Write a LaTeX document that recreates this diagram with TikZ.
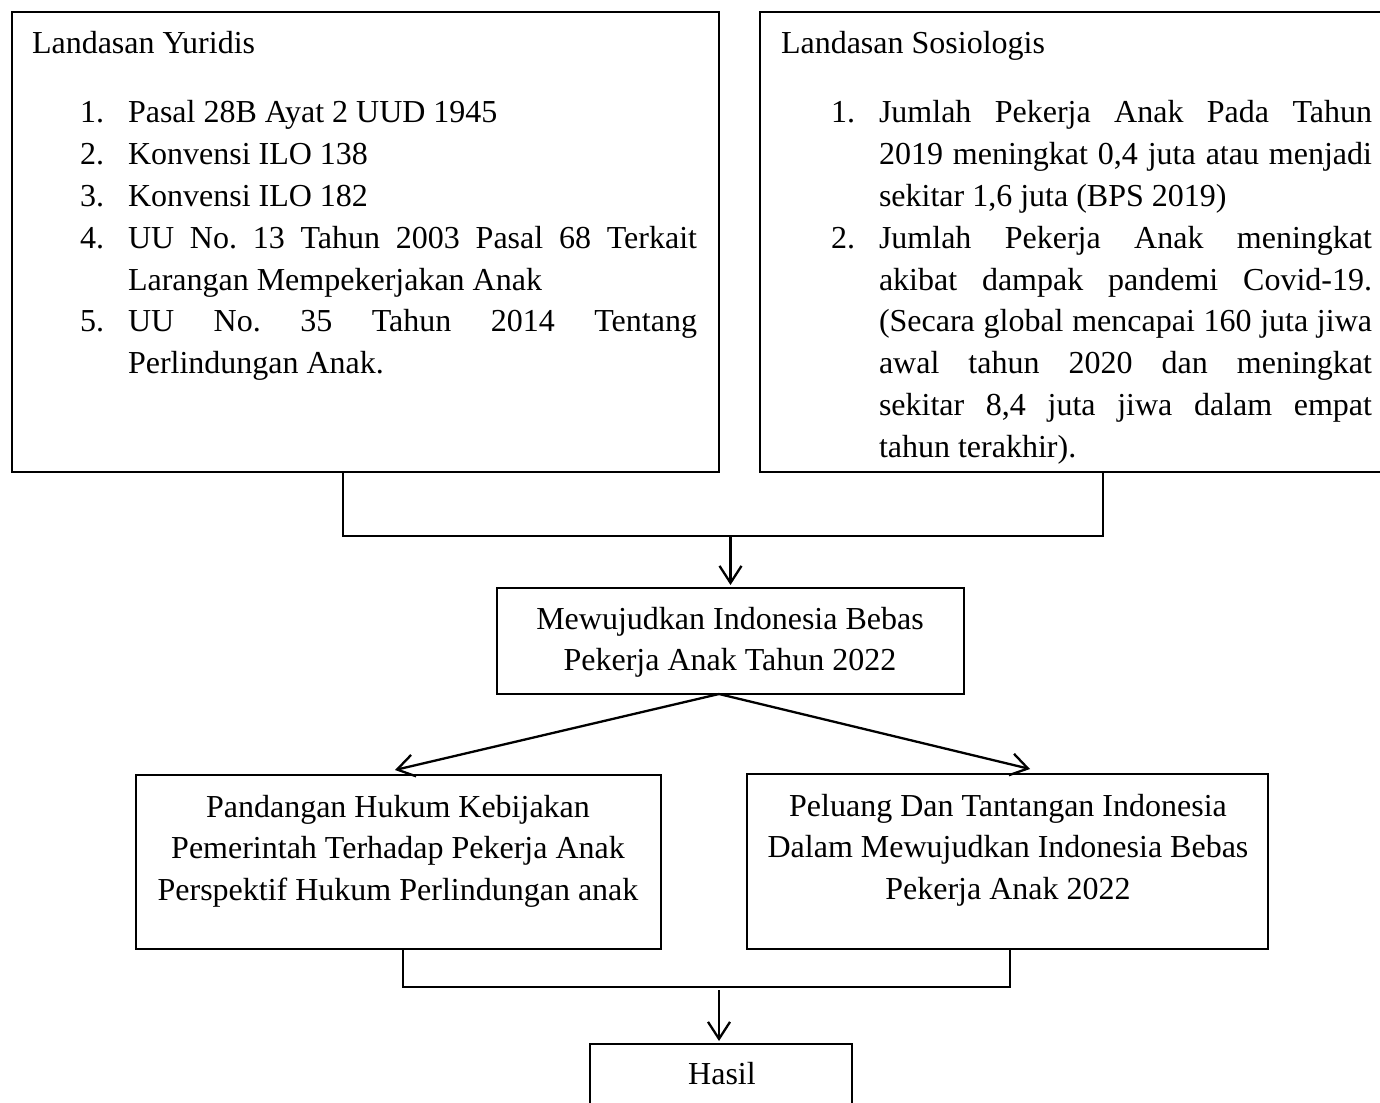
\documentclass[tikz,border=0pt]{standalone}
\usepackage{fontspec}
\setmainfont{Liberation Serif}
\usetikzlibrary{arrows.meta,calc}
\newcommand\myitem[1]{\par\noindent\llap{\makebox[48pt][l]{#1}}\ignorespaces}

\begin{document}
\frenchspacing
\begin{tikzpicture}[x=1pt,y=-1pt,
  box/.style={draw, line width=2pt, rectangle, inner sep=0pt, outer sep=0pt},
  txt/.style={inner sep=0pt, outer sep=0pt, font=\fontsize{32}{41.8}\selectfont},
  link/.style={line width=2pt},
  arr/.style={line width=2.3pt, -{Straight Barb[length=17pt,width=22pt]}}]
\useasboundingbox (0,0) rectangle (1380,1102);
\clip (0,0) rectangle (1380,1102);

% boxes
\node[box, minimum width=707pt, minimum height=460pt] (yur) at (365.5,242) {};
\node[box, minimum width=632pt, minimum height=460pt] (sos) at (1076,242) {};
\node[box, minimum width=467pt, minimum height=106pt] (mew) at (730.5,641) {};
\node[box, minimum width=525pt, minimum height=174pt] (pan) at (398.5,862) {};
\node[box, minimum width=521pt, minimum height=175pt] (pel) at (1007.5,861.5) {};
\node[box, minimum width=262pt, minimum height=100pt] (has) at (721,1094) {};

% texts
\node[txt, anchor=base west] (yurT) at (32,54) {Landasan Yuridis};
\node[txt, anchor=base west] (yurL) at (128,123) {\parbox[t]{569pt}{\frenchspacing\tolerance=10000 \hyphenpenalty=10000
\myitem{1.}Pasal 28B Ayat 2 UUD 1945
\myitem{2.}Konvensi ILO 138
\myitem{3.}Konvensi ILO 182
\myitem{4.}UU No. 13 Tahun 2003 Pasal 68 Terkait\linebreak Larangan Mempekerjakan Anak
\myitem{5.}UU No. 35 Tahun 2014 Tentang\linebreak Perlindungan Anak.\par}};

\node[txt, anchor=base west] (sosT) at (781,54) {Landasan Sosiologis};
\node[txt, anchor=base west] (sosL) at (879,123) {\parbox[t]{493pt}{\frenchspacing\tolerance=10000 \hyphenpenalty=10000
\myitem{1.}Jumlah Pekerja Anak Pada Tahun\linebreak 2019 meningkat 0,4 juta atau menjadi\linebreak sekitar 1,6 juta (BPS 2019)
\myitem{2.}Jumlah Pekerja Anak meningkat\linebreak akibat dampak pandemi Covid-19.\linebreak (Secara global mencapai 160 juta jiwa\linebreak awal tahun 2020 dan meningkat\linebreak sekitar 8,4 juta jiwa dalam empat\linebreak tahun terakhir).\par}};

\node[txt, anchor=base] (mewT) at (730,629) {\parbox[t]{460pt}{\centering Mewujudkan Indonesia Bebas\\ Pekerja Anak Tahun 2022}};
\node[txt, anchor=base] (panT) at (398,817) {\parbox[t]{520pt}{\centering Pandangan Hukum Kebijakan\\ Pemerintah Terhadap Pekerja Anak\\ Perspektif Hukum Perlindungan anak}};
\node[txt, anchor=base] (pelT) at (1008,816) {\parbox[t]{515pt}{\centering Peluang Dan Tantangan Indonesia\\ Dalam Mewujudkan Indonesia Bebas\\ Pekerja Anak 2022}};
\node[txt, anchor=base] (hasT) at (722,1084) {Hasil};

% connectors
\coordinate (j1) at (343,536);
\coordinate (j2) at (1103,536);
\draw[link] (yur.south -| j1) -- (j1) -- (j2) -- (sos.south -| j2);
\draw[arr, shorten >=3pt] (j1 -| mew.north) -- (mew.north);

\coordinate (apex) at (719,694);
\coordinate (tl) at (395,770);
\coordinate (tr) at (1030,769);
\draw[arr] (mew.south -| apex) -- (tl);
\draw[arr] (mew.south -| apex) -- (tr);

\coordinate (k1) at (403,987);
\coordinate (k2) at (1010,987);
\draw[link] (pan.south -| k1) -- (k1) -- (k2) -- (pel.south -| k2);
\coordinate (k3) at (719,990);
\draw[arr, shorten >=3pt] (k3) -- (k3 |- has.north);
\end{tikzpicture}
\end{document}
